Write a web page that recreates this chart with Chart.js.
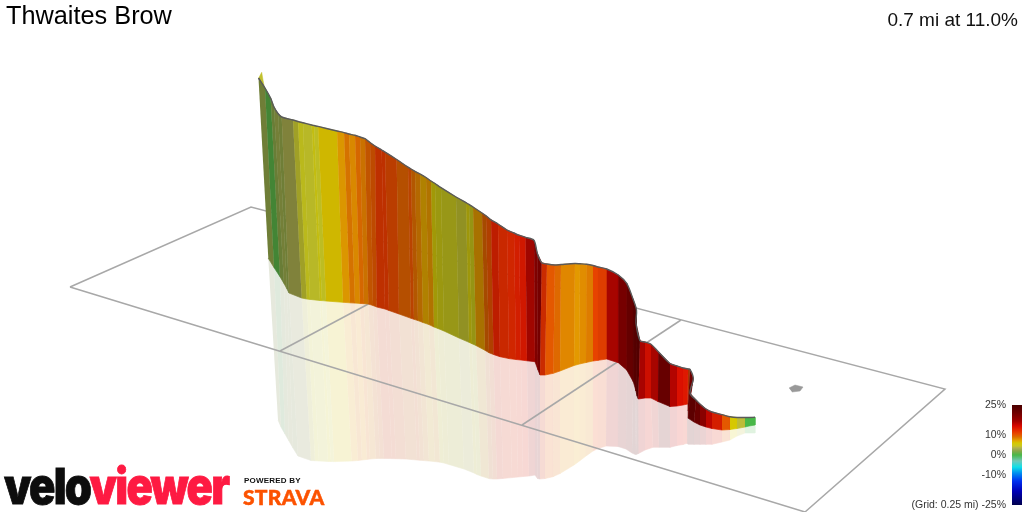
<!DOCTYPE html>
<html>
<head>
<meta charset="utf-8">
<title>Thwaites Brow</title>
<script src="https://cdn.jsdelivr.net/npm/chart.js@4/dist/chart.umd.min.js"></script>
<style>
  html, body { margin: 0; padding: 0; background: #fff; overflow: hidden; }
  #wrap { position: relative; width: 1024px; height: 512px; overflow: hidden; font-family: "Liberation Sans", Arial, sans-serif; }
  #profile { position: absolute; left: 0; top: 0; }
  #scale { position: absolute; left: 890px; top: 385px; }
  .txt { position: absolute; white-space: nowrap; color: #000; }
  #name { left: 6px; top: 1px; font-size: 25.3px; line-height: 29px; }
  #stat { right: 6px; top: 9px; font-size: 19px; line-height: 22px; color: #111; }
  #logo { left: 4px; top: 456px; font: 900 50px/60px Inter, sans-serif; letter-spacing: -2px; transform-origin: 0 0; transform: scaleX(.87); color: #0d0d0d; -webkit-text-stroke: .8px currentColor; }
  #logo span { color: #fe1a42; }
  #powered { left: 244px; top: 476px; font: bold 8px/10px "Liberation Sans", sans-serif; letter-spacing: .2px; color: #111; }
  #strava { left: 243px; top: 486px; font: 900 21px/22px Lato, sans-serif; letter-spacing: .3px; color: #fc5200; -webkit-text-stroke: .5px #fc5200; }
</style>
</head>
<body>
<div id="wrap">
  <canvas id="profile" width="1024" height="512"></canvas>
  <canvas id="scale" width="134" height="135"></canvas>
  <div class="txt" id="name">Thwaites Brow</div>
  <div class="txt" id="stat">0.7 mi at 11.0%</div>
  <div class="txt" id="logo">velo<span>viewer</span></div>
  <div class="txt" id="powered">POWERED BY</div>
  <div class="txt" id="strava">STRAVA</div>
</div>
<script>
// ribbon stations (projected position of each road point)
const topX = [258.5,265,270.7,274,278,281.7,293,298,303,311.7,314,318,337,344,349,355,360,365,370,375,381.7,385,396.7,408,411,415,420,426,431,435,441,456,466,469,473,482,486,491,498,507,514,519,525.5,534,537.3,541.7,547,555,561,575,580,586.7,593,598,606.7,618.3,626.7,633,636.5,636,640,645,651,658.3,670,677,683,688,690,693.3,690,696,700,706,712,722,730,737,745,749,755];
const topY = [78,88,98.3,107,113.5,117,120,121.5,122.8,125,125.5,126.4,131,132.6,134,135.3,137,138.7,142.5,146,150,152,159.5,167.2,169,171.3,174,177.5,181,183.5,187.7,197,202.7,204.4,207,213,215.7,219.8,224,230,233,235.2,237.3,240.3,253.3,262.7,264,265,264.5,263.5,263.8,264.3,265.5,267,269,275,283.3,299,310,323,340.7,342,344.3,351.7,363.5,366,368,369,369.3,378.3,393.3,400,404,409,412,414.6,416.7,417.5,417.5,417.5,417.3];
const baseX = [268.3,274,280,284,287,289,301.7,306.7,310,320,322,326,343,350,355,360,364,368.3,373,376.7,385,389,399,411,414,418,423,429,434,438,444,459,469,472,476,485,489,493.5,500,509,516,521,527,535,538,540,545,553.3,560,574,579.5,586,593,598,606.7,618.3,626.7,633.3,636,637,638.3,645,651,658,670,677,683,687.8,688,688.2,688.3,694,700,706,712,722,730,737,745,749,755];
const baseY = [258.3,267.5,276.7,283.5,289,293,298,299,299.4,300.5,300.6,301,302.3,302.8,303.1,303.4,303.7,304,305.5,307,309,310.5,314,318.3,319.3,320.6,322.5,324.6,327,328.5,331,338,342.3,343.7,345.5,350.3,352.7,354.5,356.7,358.6,359.5,360,360.8,361.7,370,375,375,373.3,371,365.5,364,362.5,361,360.3,359,362.7,370,381.7,391,396,399,398,398,401.5,406.5,406,405,404,404,411,418.3,422,425,427,428.5,430,429.5,428.5,427,426,425];
const floorX = [278,281,285,289,293,298,311,315,319,328,331,334,351.7,358,362,367,370,376,380,384,392,396,406,417,420,424,429,435,440,444,449,464,474,477,481,489,493,497,503,512,518,523,529,535,537.5,540,545,553,560,574,579.5,586,593,598,606,618,626,632,635,636,638.5,645,653,659,670,677,683,687,688,688,688.3,694,700,706,712,722,730,737,745,749,755];
const floorY = [420,427,434,441,448,456,460.5,460.7,461,461.4,461.5,461.6,461,460.5,460,459.4,459,458.5,458.4,458.4,458.6,458.7,459,460,460.3,460.6,461,461.6,462.2,463,464.5,469,473,474.5,476,478.6,479,479,478.4,477.6,477,476.5,476,475,478.5,479,478.5,476.7,473.5,465,461,456,451,448.5,446,446.5,449,453,454.3,454.5,453.5,450,447.3,447.3,447.3,445.5,444.5,443.3,443.5,444,444.3,444.3,444.3,444.3,444.3,442,440,436,433,433,433];
// gradient (%) of the stretch between a station and the next one
const bandGrades = [2.5,0.6,2.2,2.8,2.5,3.4,4.2,4.6,4.3,5.2,4.4,6.3,7.5,8.8,8,9.2,8.6,9.6,10,11.5,11.5,10.5,9.6,10.2,9.2,8.4,7.2,7.8,5.6,5,4.6,4.2,5.4,4.8,7.6,9.5,10.2,12.8,12.2,12.4,13,13.4,14.5,16.5,17,12,10,9.3,8.2,7.6,8,8.6,11,11.2,15,17,19,20.5,21,21,16,14,15,20,15.5,14,13.5,11,18,18,20,18.5,16.5,14.5,13,10,6,4,0,0];

// colour scale shared by the ribbon and the colour bar
const scaleGrades = [-25,-18,-13,-9,-6,-3,0,2,3.5,4.5,6,7.5,9,10.5,12.5,14.5,17,21,25];
const scaleColours = ["#00004e","#0000b8","#0030f0","#0090f0","#10e0e8","#70c8b8","#48b848","#88a848","#b0b050","#c8c820","#d6c800","#e49c00","#dc7000","#e84c00","#e42800","#d80800","#a00000","#700000","#4a0000"];
const tickGrades = [25,10,0,-10,-25];
const tickNote = "(Grid: 0.25 mi) ";

// ground plane and the little grey start marker
const planeX = [70,251,945,805,70];
const planeY = [287,207,389,512,287];
const crossAX = [280,451];
const crossAY = [351,260];
const crossBX = [522,681];
const crossBY = [425,320];
const markerX = [789,795,803,800,792];
const markerY = [388,385,387,391,392];
const tipX = [258.7,261.7,263,264.5];
const tipY = [78,72.3,80,88];

function hexToRgb(h) {
  return [parseInt(h.slice(1,3),16), parseInt(h.slice(3,5),16), parseInt(h.slice(5,7),16)];
}

function gradeRgb(g) {
  if (g <= scaleGrades[0]) return hexToRgb(scaleColours[0]);
  for (let i = 1; i < scaleGrades.length; i++) {
    if (g <= scaleGrades[i]) {
      const t = (g - scaleGrades[i-1]) / (scaleGrades[i] - scaleGrades[i-1]);
      const a = hexToRgb(scaleColours[i-1]), b = hexToRgb(scaleColours[i]);
      return a.map((v, k) => v + (b[k] - v) * t);
    }
  }
  return hexToRgb(scaleColours[scaleColours.length-1]);
}

// faces turned away from the light come out darker
function lightAt(i) {
  const a = Math.max(0, i-1), b = Math.min(baseX.length-1, i+2);
  const dx = Math.max(1, baseX[b] - baseX[a]);
  const s = (baseY[b] - baseY[a]) / dx;
  return s <= 0 ? 1 : Math.max(0.74, 1 - 0.55 * s);
}

function css(rgb) {
  return "rgb(" + rgb.map(v => Math.round(v)).join(",") + ")";
}

function points(xs, ys) {
  return xs.map((x, i) => ({ x: x, y: ys[i] }));
}

function shape(xs, ys, colour, width) {
  return {
    data: points(xs, ys),
    fill: "shape",
    backgroundColor: colour,
    borderColor: colour,
    borderWidth: width,
    pointRadius: 0,
    tension: 0
  };
}

function line(xs, ys, colour, width, tension) {
  return {
    data: points(xs, ys),
    fill: false,
    borderColor: colour,
    borderWidth: width,
    pointRadius: 0,
    tension: tension || 0
  };
}

const datasets = [];

// pale reflection under the ribbon
bandGrades.forEach((g, i) => {
  const lit = lightAt(i);
  const pale = gradeRgb(g).map(v => 255 - (255 - v * lit) * 0.17);
  datasets.push(shape(
    [baseX[i], baseX[i+1], floorX[i+1], floorX[i]],
    [baseY[i], baseY[i+1], floorY[i+1], floorY[i]],
    css(pale), 0.6));
});

// ground grid goes over the reflection but behind the ribbon
datasets.push(line(planeX, planeY, "#a8a8a8", 1.5));
datasets.push(line(crossAX, crossAY, "#a8a8a8", 1.5));
datasets.push(line(crossBX, crossBY, "#a8a8a8", 1.5));
datasets.push(shape(markerX, markerY, "#999999", 0.5));
datasets.push(shape(tipX, tipY, css(gradeRgb(4.2)), 0.5));

// the ribbon itself
bandGrades.forEach((g, i) => {
  const lit = lightAt(i);
  const col = gradeRgb(g).map(v => v * lit);
  datasets.push(shape(
    [topX[i], topX[i+1], baseX[i+1], baseX[i]],
    [topY[i], topY[i+1], baseY[i+1], baseY[i]],
    css(col), 0.7));
});

datasets.push(line(topX, topY, "#5a5a5a", 1.4, 0.3));

datasets.forEach((d, i) => { d.order = -i; });

new Chart(document.getElementById("profile"), {
  type: "line",
  data: { datasets: datasets },
  options: {
    responsive: false,
    animation: false,
    parsing: false,
    normalized: false,
    layout: { padding: 0 },
    plugins: { legend: { display: false }, tooltip: { enabled: false } },
    scales: {
      x: { type: "linear", min: 0, max: 1024, display: false },
      y: { type: "linear", min: 0, max: 512, reverse: true, display: false }
    }
  }
});

new Chart(document.getElementById("scale"), {
  type: "bar",
  data: {
    labels: [""],
    datasets: [{
      data: [[scaleGrades[0], scaleGrades[scaleGrades.length-1]]],
      barPercentage: 1,
      categoryPercentage: 1,
      backgroundColor: function(c) {
        const area = c.chart.chartArea;
        if (!area) return "#888";
        const grad = c.chart.ctx.createLinearGradient(0, area.bottom, 0, area.top);
        scaleGrades.forEach((g, i) => grad.addColorStop((g + 25) / 50, scaleColours[i]));
        return grad;
      }
    }]
  },
  options: {
    responsive: false,
    animation: false,
    layout: { padding: { top: 20, bottom: 15, right: 2, left: 0 } },
    plugins: { legend: { display: false }, tooltip: { enabled: false } },
    scales: {
      x: { display: false },
      y: {
        min: -25,
        max: 25,
        grid: { display: false, drawTicks: false },
        border: { display: false },
        afterBuildTicks: s => { s.ticks = tickGrades.map(v => ({ value: v })); },
        afterFit: s => { s.width = 122; },
        ticks: {
          autoSkip: false,
          padding: 6,
          color: "#333",
          font: { family: "'Liberation Sans', Arial, sans-serif", size: 10.5 },
          callback: v => (v === -25 ? tickNote : "") + v + "%"
        }
      }
    }
  }
});
</script>
</body>
</html>
